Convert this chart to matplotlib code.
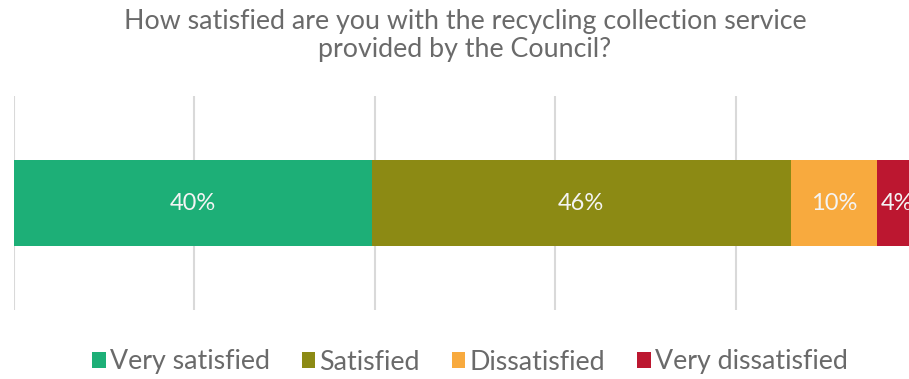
import matplotlib
matplotlib.use("Agg")
import matplotlib.pyplot as plt
from matplotlib.patches import Patch

categories = ["Very satisfied", "Satisfied", "Dissatisfied", "Very dissatisfied"]
values = [39.7, 46.4, 9.6, 4.3]
labels = ["40%", "46%", "10%", "4%"]
colors = ["#1DAF77", "#8C8A14", "#F8AA3E", "#BC1730"]
title = "How satisfied are you with the recycling collection service\nprovided by the Council?"

plt.rcParams['font.family'] = ['Lato', 'DejaVu Sans']

fig = plt.figure(figsize=(9.09, 3.79), dpi=100)
ax = fig.add_axes([14/909, 1-310/379, 902/909, 214/379])

left = 0
for v, lab, c in zip(values, labels, colors):
    ax.barh(0, v, left=left, height=0.4, color=c, zorder=2)
    ax.text(left + v/2, 0, lab, ha='center', va='center', color='#F4F4F4',
            fontsize=17, fontweight='normal', zorder=3)
    left += v

ax.set_xlim(0, 100)
ax.set_ylim(-0.5, 0.5)
ax.set_xticks([0, 20, 40, 60, 80, 100])
ax.set_yticks([])
ax.tick_params(axis='x', length=0, labelbottom=False)
ax.grid(axis='x', color='#D9D9D9', linewidth=1.5, zorder=0)
for s in ax.spines.values():
    s.set_visible(False)

fig.text(465/909, 1-35/379, title, ha='center', va='center', fontsize=19.3,
         color='#6A6A6A', fontweight='normal', linespacing=1.15)

handles = [Patch(facecolor=c, label=n) for n, c in zip(categories, colors)]
leg = fig.legend(handles=handles, loc='center', bbox_to_anchor=(470/909, 1-362/379),
                 ncol=4, frameon=False, fontsize=19.3, handlelength=0.5,
                 handleheight=0.55, handletextpad=0.15, columnspacing=1.2)
for t in leg.get_texts():
    t.set_color('#6A6A6A')

fig.savefig("out.png", dpi=100)
